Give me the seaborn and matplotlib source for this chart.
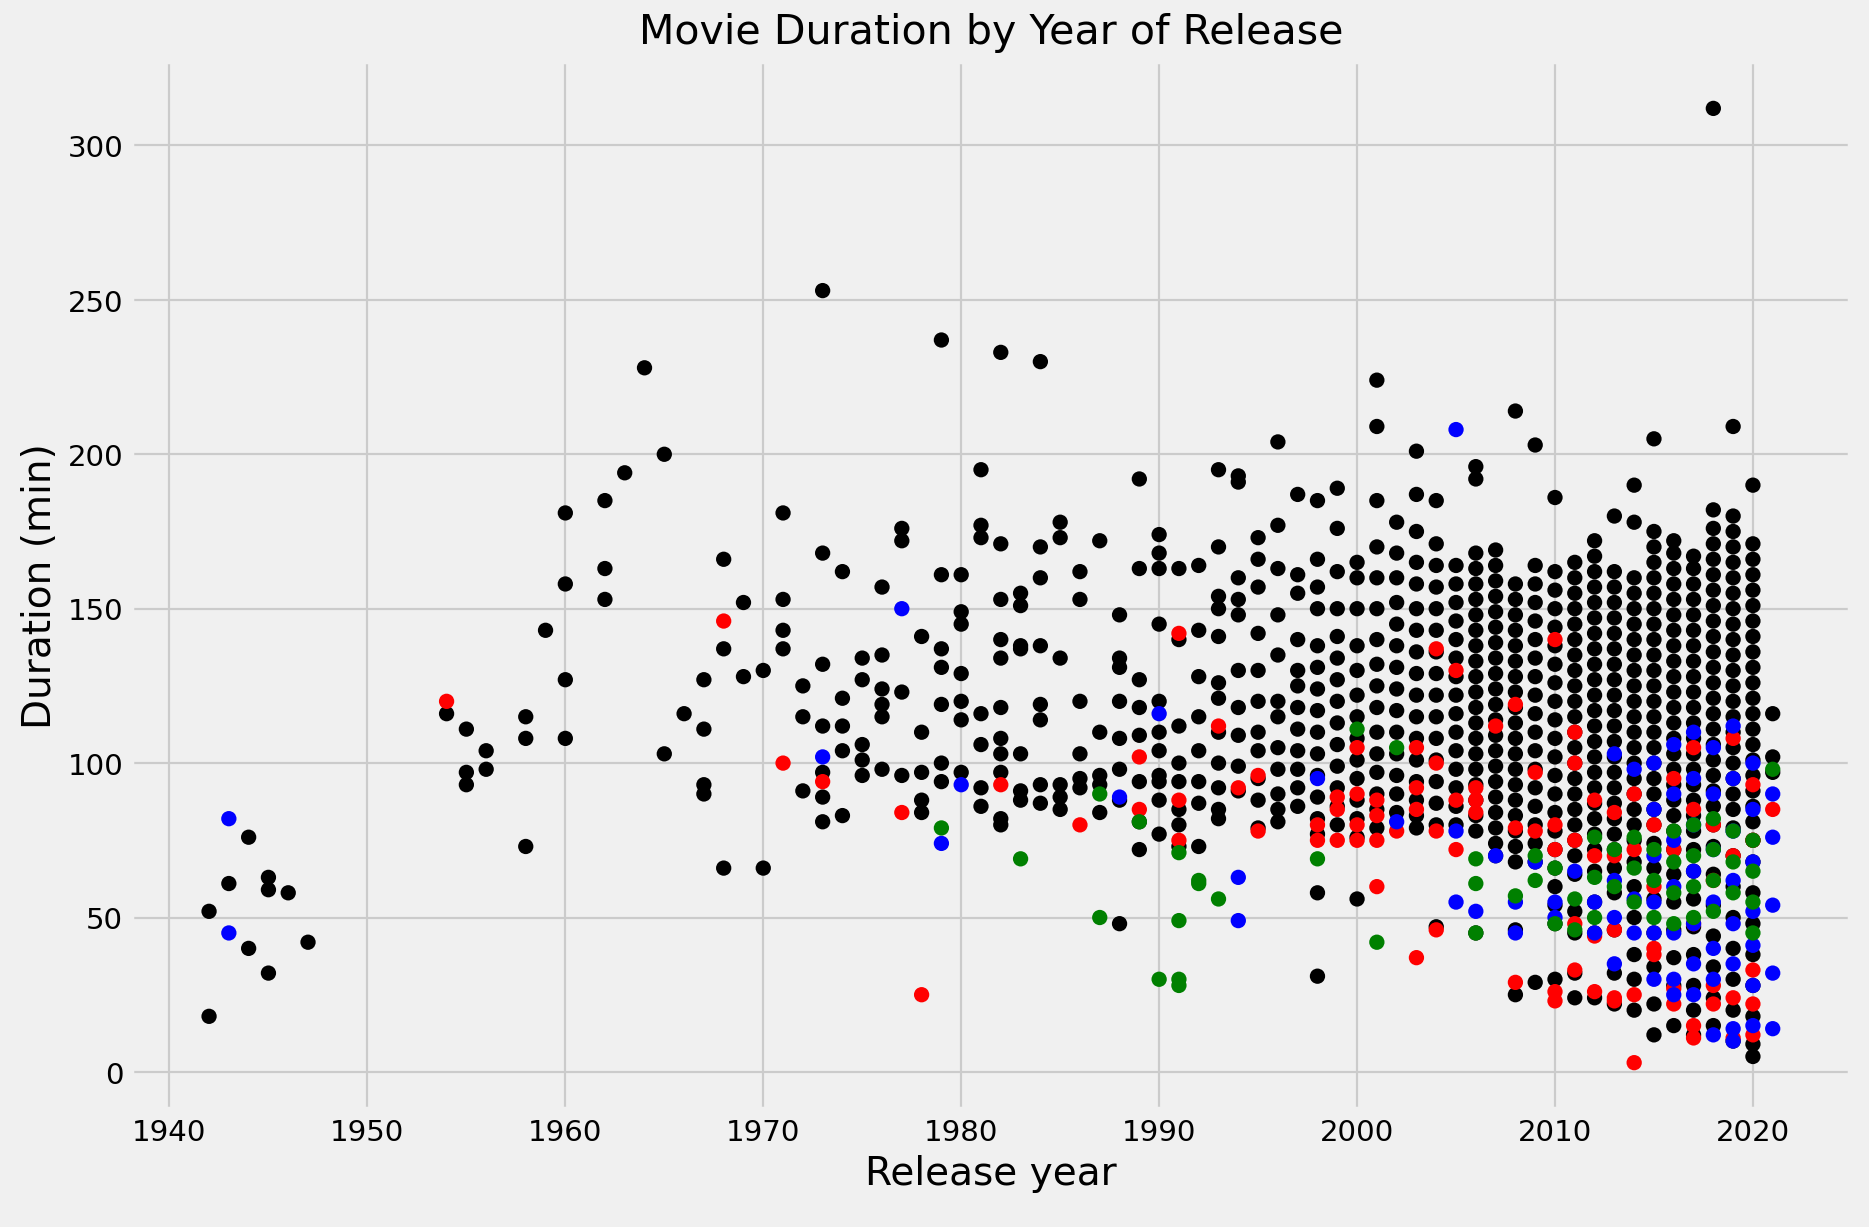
import matplotlib
matplotlib.use("Agg")
import matplotlib.pyplot as plt
import seaborn as sns
import pandas as pd

black = {
1942:[52,18],1943:[61],1944:[76,40],1945:[63,59,32],1946:[58],1947:[42],
1954:[116],1955:[111,97,93],1956:[104,98],1958:[115,108,73],1959:[143],
1960:[181,158,127,108],1962:[185,163,153],1963:[194],1964:[228],1965:[200,103],
1966:[116],1967:[127,111,93,90],1968:[166,137,66],1969:[152,128],1970:[130,66],
1971:[181,153,143,137],1972:[125,115,91],1973:[253,168,132,112,97,89,81],
1974:[162,121,112,104,83],1975:[134,127,106,101,96],1976:[157,135,124,119,115,98],
1977:[176,172,123,96],1978:[141,110,97,88,84],1979:[237,161,137,131,119,100,94],
1980:[161,149,145,129,120,114,97],1981:[195,177,173,116,106,92,86],
1982:[233,171,153,140,134,118,108,103,97,82,80],1983:[155,151,138,137,103,91,88],
1984:[230,170,160,138,119,114,93,87],1985:[178,173,134,93,89,85],
1986:[162,153,120,103,95,92],1987:[172,110,96,93,84],
1988:[148,134,131,120,108,98,88,48],1989:[192,163,127,118,109,94,81,72],
1990:[174,168,163,145,120,110,104,96,94,88,77],1991:[163,140,112,100,94,85,80,73],
1992:[164,143,128,115,104,94,87,73],1993:[195,170,154,150,141,126,121,110,100,92,85,82],
1994:[193,191,160,153,148,130,118,109,99,91],1995:[173,166,157,142,130,120,110,104,95,88,79],
1996:[204,177,163,148,135,120,115,105,98,90,85,81],1997:[187,161,155,140,130,125,118,111,104,98,92,86],
1998:[185,166,157,150,138,131,124,117,110,103,96,89,82,77,58,31],
1999:[189,176,162,150,141,134,127,120,113,106,99,92,86,80],
2000:[165,160,150,138,130,122,115,108,101,95,88,82,76,56],
2001:[224,209,185,170,160,150,140,132,125,118,110,103,97,90,85,79],
2002:[178,168,160,152,145,138,131,124,117,110,103,96,90,84],
2003:[201,187,175,165,158,150,143,136,129,122,115,108,101,94,88,83,79],
2004:[185,171,164,157,150,143,136,129,122,115,108,101,94,87,80,47],
2005:[164,158,152,146,140,134,128,122,116,110,104,98,92,86,80],
2006:[196,192,168,163,158,153,148,143,138,133,128,123,118,113,108,103,98,93,88,83,78,45],
2007:[169,164,159,154,149,144,139,134,129,124,119,114,109,104,99,94,89,84,79,74,70],
2008:[214,158,153,148,143,138,133,128,123,118,113,108,103,98,93,88,83,78,73,68,46,25],
2009:[203,164,158,152,146,140,134,128,122,116,110,104,98,92,86,80,74,68,29],
2010:[186,162,156,150,144,138,132,126,120,114,108,102,96,90,84,78,72,66,60,54,48,30],
2011:[165,160,155,150,145,140,135,130,125,120,115,110,105,100,95,90,85,80,75,70,64,52,45,32,24],
2012:[172,167,162,157,152,147,142,137,132,127,122,117,112,107,102,97,92,87,82,77,72,65,55,45,24],
2013:[180,162,157,152,147,142,137,132,127,122,117,112,107,102,97,92,87,82,77,72,66,58,46,32,22],
2014:[190,178,160,155,150,145,140,135,130,125,120,115,110,105,100,95,90,85,80,75,68,60,50,38,30,20],
2015:[205,175,170,165,160,155,150,145,140,135,130,125,120,115,110,105,100,95,90,85,80,74,66,56,45,34,22,12],
2016:[172,168,163,158,153,148,143,138,133,128,123,118,113,108,103,98,93,88,83,78,72,64,55,46,37,28,15],
2017:[167,163,158,153,148,143,138,133,128,123,118,113,108,103,98,93,88,83,78,72,65,56,47,38,28,20,12],
2018:[312,182,176,171,166,161,156,151,146,141,136,131,126,121,116,111,106,101,96,91,86,80,73,64,54,44,34,24,15],
2019:[209,180,175,170,165,160,155,150,145,140,135,130,125,120,115,110,105,100,95,90,85,79,70,60,50,40,30,20,10],
2020:[190,171,166,161,156,151,146,141,136,131,126,121,116,111,106,101,96,91,86,81,75,68,58,48,38,28,18,9,5],
2021:[116,102,97],
}
red = {
1954:[120],1968:[146],1971:[100],1973:[94],1977:[84],1978:[25],1982:[93],1986:[80],
1989:[102,85],1991:[142,88,75],1993:[112],1994:[92],1995:[96,78],1998:[80,75],
1999:[89,85,75],2000:[105,90,80,75],2001:[88,83,75,60],2002:[78],2003:[105,92,85,37],
2004:[137,100,78,46],2005:[130,88,72],2006:[92,88,84],2007:[112],2008:[119,79,29],
2009:[97,78],2010:[140,80,72,26,23],2011:[110,100,75,48,33],2012:[88,70,44,26],
2013:[84,70,46,24,23],2014:[90,72,3,25],2015:[80,60,40,38],2016:[95,72,27,22],
2017:[105,85,48,15,11],2018:[80,62,28,22],2019:[108,70,24,11],2020:[93,75,33,22,12],
2021:[85],
}
blue = {
1943:[82,45],1973:[102],1977:[150],1979:[74],1980:[93],1988:[89],1990:[116],
1994:[63,49],1998:[95],2002:[81],2005:[208,55,78],2006:[52],2007:[70],2008:[55,45],
2009:[68],2010:[55,50],2011:[65],2012:[55,45],2013:[103,62,50,35],2014:[98,56,45],
2015:[100,85,70,55,45,30],2016:[106,90,75,60,45,30,25],2017:[110,95,80,65,48,35,25],
2018:[105,90,72,55,40,30,12],2019:[112,95,78,62,48,35,14,10],2020:[100,85,68,52,41,28,15],
2021:[90,76,54,32,14],
}
green = {
1979:[79],1983:[69],1987:[90,50],1989:[81],1990:[30],1991:[71,49,30,28],1992:[62,61],
1993:[56],1998:[69],2000:[111],2001:[42],2002:[105],2006:[69,61,45],2008:[57],
2009:[70,62],2010:[66,48],2011:[56,46],2012:[76,63,50],2013:[72,60],2014:[76,66,55],
2015:[72,62,50],2016:[78,68,58,48],2017:[80,70,60,50],2018:[82,72,62,52],
2019:[78,68,58],2020:[75,65,55,45],2021:[98],
}

def frame(d, c):
    rows = [(y, v, c) for y, vals in d.items() for v in vals]
    return pd.DataFrame(rows, columns=["year", "duration", "color"])

df = pd.concat([frame(black, "black"), frame(red, "red"),
                frame(blue, "blue"), frame(green, "green")])

plt.style.use("fivethirtyeight")
fig, ax = plt.subplots(figsize=(12, 7.88), dpi=155.8)
sns.scatterplot(data=df, x="year", y="duration", hue="color",
                palette={"black": "black", "red": "red", "blue": "blue", "green": "green"},
                hue_order=["black", "red", "blue", "green"],
                s=50, edgecolor=None, linewidth=0, legend=False, ax=ax)
ax.set_title("Movie Duration by Year of Release", fontsize=19, pad=8)
ax.set_xlabel("Release year", fontsize=18)
ax.set_ylabel("Duration (min)", fontsize=18)
ax.tick_params(labelsize=13.5)
ax.set_xticks([1940, 1950, 1960, 1970, 1980, 1990, 2000, 2010, 2020])
ax.set_yticks([0, 50, 100, 150, 200, 250, 300])
fig.subplots_adjust(left=0.07, right=0.99, top=0.95, bottom=0.095)
fig.savefig("out.png")
